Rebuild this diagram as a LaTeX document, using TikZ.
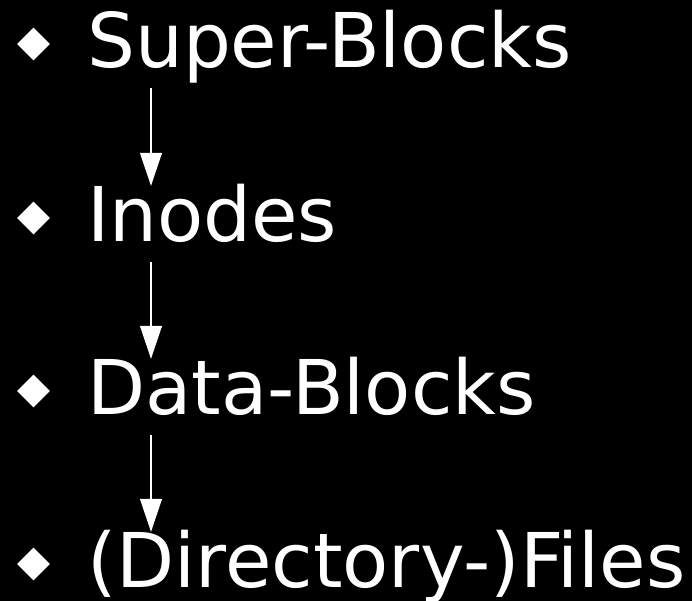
\documentclass[tikz,border=0pt]{standalone}
\usepackage{fontspec}
\setmainfont{DejaVu Sans}
\usetikzlibrary{arrows.meta,shapes.geometric,calc}

\begin{document}
\begin{tikzpicture}
	% Styles
	[
	x=1pt, y=1pt,
	item/.style={anchor=base west, inner sep=0pt, text=white, text height=56pt, text depth=17pt, font=\fontsize{75.5}{82}\selectfont},
	bullet/.style={diamond, fill=white, inner sep=0pt, minimum width=33pt, minimum height=33pt},
	flow/.style={draw=white, line width=1.2pt, -{Triangle[width=22pt,length=33pt]}, shorten <=3pt}
	]

	% Background
	\fill[black] (0,0) rectangle (692,601);
	\useasboundingbox (0,0) rectangle (692,601);

	% Nodes
	\node at (87,533)	(super)	[item] {Super-Blocks};
	\node at (87,359)	(inodes)	[item] {Inodes};
	\node at (87,186)	(data)	[item] {Data-Blocks};
	\node at (87,13)	(files)	[item] {(Directory-)Files};
	\node at (33.5,557)	(b1)	[bullet] {};
	\node at (33.5,383)	(b2)	[bullet] {};
	\node at (33.5,210)	(b3)	[bullet] {};
	\node at (33.5,37)	(b4)	[bullet] {};

	% Connections
	\draw[flow] ([xshift=64pt]super.south west) -- ([xshift=64pt]inodes.north west);
	\draw[flow] ([xshift=64pt]inodes.south west) -- ([xshift=64pt]data.north west);
	\draw[flow] ([xshift=64pt]data.south west) -- ([xshift=64pt]files.north west);

\end{tikzpicture}
\end{document}
